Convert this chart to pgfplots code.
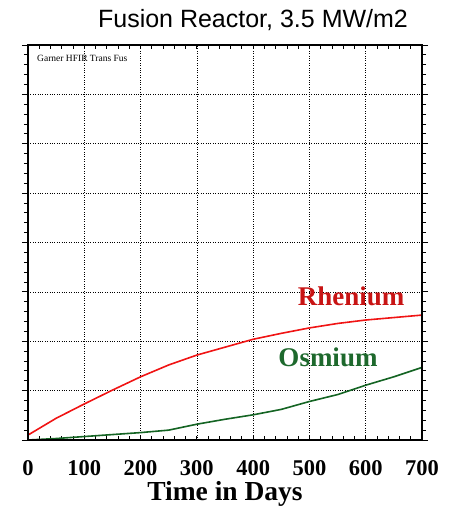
\documentclass[border=0pt]{standalone}
\usepackage{pgfplots}
\pgfplotsset{compat=1.18}
\usepackage{fontspec}
\setmainfont{Liberation Serif}
\newfontfamily\sansf{Liberation Sans}
\definecolor{rline}{RGB}{240,20,20}
\definecolor{rtext}{RGB}{200,20,20}
\definecolor{gline}{RGB}{20,100,35}
\definecolor{gtext}{RGB}{30,105,45}
\begin{document}
\begin{tikzpicture}
\useasboundingbox (0,0) rectangle (454pt,516pt);
\begin{axis}[
  at={(28pt,76pt)}, anchor=south west,
  scale only axis, width=394pt, height=395pt,
  xmin=0, xmax=700, ymin=0, ymax=8,
  xtick={0,100,...,700}, minor x tick num=4,
  ytick={0,1,...,8}, yticklabels={},
  tick align=inside,
  ytick style={draw=none},
  major tick length=4pt, minor tick length=4pt,
  xticklabel pos=lower,
  grid=major,
  major grid style={black, dotted, line width=0.6pt},
  axis line style={line width=1.6pt},
  tick style={black, line width=0.8pt},
  /pgf/number format/assume math mode=true,
  xticklabel style={font=\bfseries\fontsize{22.5}{22.5}\selectfont, anchor=base, yshift=-35pt, inner sep=0.5pt},
  xlabel={Time in Days},
  xlabel style={font=\bfseries\fontsize{27.5}{27.5}\selectfont, anchor=base, at={(axis description cs:0.5,0)}, yshift=-60pt, inner sep=0pt},
]
\addplot[rline, line width=1.6pt] coordinates {
(0,0.10) (50,0.44) (100,0.73) (150,1.01) (200,1.28) (250,1.52) (300,1.72)
(350,1.88) (400,2.04) (450,2.16) (500,2.27) (550,2.36) (600,2.43) (650,2.48) (700,2.53)};
\addplot[gline, line width=1.6pt] coordinates {
(0,0.0) (50,0.03) (100,0.07) (150,0.11) (200,0.15) (250,0.20) (300,0.32)
(350,0.42) (400,0.51) (450,0.62) (500,0.78) (550,0.92) (600,1.11) (650,1.28) (700,1.47)};
\node[rtext, font=\bfseries\fontsize{27}{27}\selectfont] at (axis cs:574,2.91) {Rhenium};
\node[gtext, font=\bfseries\fontsize{27}{27}\selectfont] at (axis cs:533,1.67) {Osmium};
\node[anchor=west, font=\fontsize{9.5}{9.5}\selectfont, inner sep=0pt] at (axis cs:16,7.72) {Garner HFIR Trans Fus};
\end{axis}
\begin{axis}[
  at={(28pt,76pt)}, anchor=south west,
  scale only axis, width=394pt, height=395pt,
  xmin=0, xmax=700, ymin=0, ymax=8,
  xtick=\empty,
  ytick={0,1,...,8}, yticklabels={}, minor y tick num=4,
  tick align=outside,
  major tick length=6pt, minor tick length=4pt,
  axis line style={line width=1.6pt},
  tick style={black, line width=0.8pt},
]
\end{axis}
\node[font=\sansf\fontsize{25}{25}\selectfont, anchor=base] at (253pt,488pt) {Fusion Reactor, 3.5 MW/m2};
\end{tikzpicture}
\end{document}
